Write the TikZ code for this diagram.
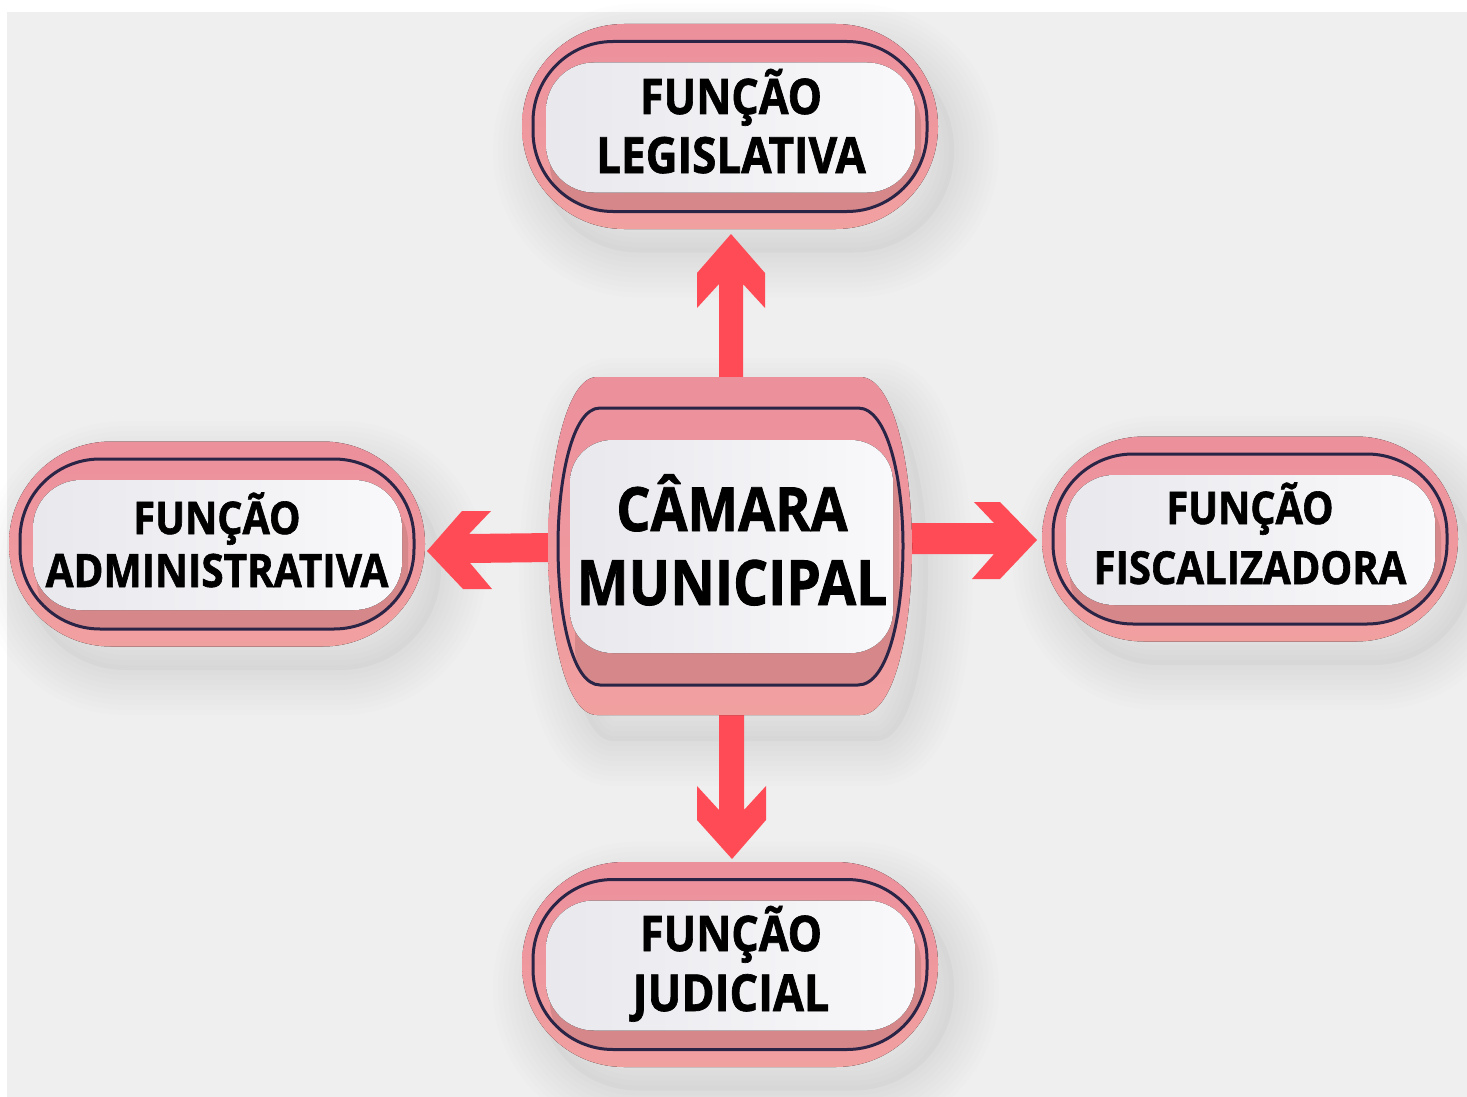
\documentclass[tikz,border=0pt]{standalone}
\usepackage{fontspec}
\newfontfamily\labfont[FakeStretch=0.88, BoldFeatures={FakeBold=1.3}]{Open Sans}
\definecolor{bgc}{HTML}{EFEFEF}
\definecolor{pinkT}{HTML}{EC909C}
\definecolor{pinkB}{HTML}{F1A0A0}
\definecolor{navyc}{HTML}{2A2546}
\definecolor{darkp}{HTML}{D6878A}
\definecolor{faceL}{HTML}{E8E8ED}
\definecolor{faceR}{HTML}{F9F9FB}
\definecolor{arrowc}{HTML}{FF4B55}
\tikzset{
  outerp/.style={top color=pinkT, bottom color=pinkB},
  navyline/.style={draw=navyc, line width=3pt},
  darkband/.style={fill=darkp},
  face/.style={left color=faceL, right color=faceR},
  blockarrow/.style={fill=arrowc},
  lab/.style={inner sep=0pt, text=black, font=\labfont\bfseries},
}
% soft shadow of a pill box centred at (#1,#2)
\newcommand{\pillshadow}[2]{%
  \begin{scope}[shift={(#1+16,#2+24)}]
    \fill[black, opacity=0.025, rounded corners=100] (-208,-102) rectangle (208,102);
    \foreach \w in {10,20,...,90}{
      \draw[black, opacity=0.008, line width=\w pt, rounded corners=100] (-208,-102) rectangle (208,102);
    }
  \end{scope}}
\newcommand{\pillbox}[2]{%
  \begin{scope}[shift={(#1,#2)}]
    \fill[outerp, rounded corners=102] (-208,-102.5) rectangle (208,102.5);
    \begin{scope}
      \clip[rounded corners=80] (-197,-85) rectangle (197,85);
      \fill[darkband, rounded corners=48] (-180,-50) rectangle (191,86);
      \fill[face, rounded corners=48] (-184,-64) rectangle (185,66);
    \end{scope}
    \draw[navyline, rounded corners=80] (-197,-85) rectangle (197,85);
  \end{scope}}
\newcommand{\centerouter}{(597,377) -- (860,377) .. controls (895,377) and (912,470) .. (912,546) .. controls (912,630) and (895,715) .. (860,715) -- (597,715) .. controls (565,715) and (548,630) .. (548,546) .. controls (548,470) and (565,377) .. (597,377) -- cycle}
\newcommand{\centernavy}{(600,408) -- (858,408) .. controls (888,408) and (903,480) .. (903,546) .. controls (903,615) and (888,685) .. (858,685) -- (600,685) .. controls (572,685) and (558,615) .. (558,546) .. controls (558,480) and (572,408) .. (600,408) -- cycle}
\begin{document}
\begin{tikzpicture}[x=1pt,y=-1pt]
  \useasboundingbox (0,0) rectangle (1467,1097);
  \fill[white] (0,0) rectangle (1467,1097);
  \fill[bgc] (7,12) rectangle (1467,1097);

  % shadows
  \pillshadow{730}{126.5}
  \pillshadow{217}{544}
  \pillshadow{1250}{539}
  \pillshadow{730}{964.5}
  \begin{scope}[shift={(16,26)}]
    \fill[black, opacity=0.025] \centerouter;
    \foreach \w in {10,20,...,90}{
      \draw[black, opacity=0.008, line width=\w pt] \centerouter;
    }
  \end{scope}

  % block arrows
  \fill[blockarrow] (719,382) -- (719,284) -- (697,308) -- (697,273) -- (731,234) -- (765,273) -- (765,308) -- (743,284) -- (743,382) -- cycle;
  \fill[blockarrow] (719,712) -- (719,810) -- (697,786) -- (697,820) -- (732,859) -- (766,820) -- (766,786) -- (744,810) -- (744,712) -- cycle;
  \fill[blockarrow] (908,523) -- (994,523) -- (974,502) -- (1000,502) -- (1037,540) -- (1000,579) -- (972,579) -- (994,554) -- (908,554) -- cycle;
  \fill[blockarrow] (552,533) -- (469,534) -- (491,511) -- (462,511) -- (427,551) -- (463,589) -- (492,589) -- (470,563) -- (552,562) -- cycle;

  % boxes
  \pillbox{730}{126.5}
  \pillbox{217}{544}
  \pillbox{1250}{539}
  \pillbox{730}{964.5}

  % centre box
  \fill[outerp] \centerouter;
  \begin{scope}
    \clip \centernavy;
    \fill[darkband, rounded corners=42] (575,455) rectangle (899,690);
    \fill[face, rounded corners=42] (570,440) rectangle (893,653);
  \end{scope}
  \draw[navyline] \centernavy;

  % texts
  \node[lab, anchor=base, font=\labfont\bfseries\fontsize{49}{59}\selectfont] (L1) at (731,114) {FUNÇÃO};
  \node[lab, anchor=base, font=\labfont\bfseries\fontsize{50}{59}\selectfont] (L2) at (731,173) {LEGISLATIVA};
  \node[lab, anchor=base, font=\labfont\bfseries\fontsize{45}{55}\selectfont] (A1) at (217,534) {FUNÇÃO};
  \node[lab, anchor=base, font=\labfont\bfseries\fontsize{46}{55}\selectfont] (A2) at (217,587) {ADMINISTRATIVA};
  \node[lab, anchor=base, font=\labfont\bfseries\fontsize{45}{55}\selectfont] (F1) at (1250,524) {FUNÇÃO};
  \node[lab, anchor=base, font=\labfont\bfseries\fontsize{45.5}{55}\selectfont] (F2) at (1250,584) {FISCALIZADORA};
  \node[lab, anchor=base, font=\labfont\bfseries\fontsize{49}{59}\selectfont] (J1) at (731,951) {FUNÇÃO};
  \node[lab, anchor=base, font=\labfont\bfseries\fontsize{51}{59}\selectfont] (J2) at (731,1011) {JUDICIAL};
  \node[lab, anchor=base, font=\labfont\bfseries\fontsize{61}{70}\selectfont] (C1) at (732,531) {CÂMARA};
  \node[lab, anchor=base, font=\labfont\bfseries\fontsize{62.5}{70}\selectfont] (C2) at (732,605) {MUNICIPAL};
\end{tikzpicture}
\end{document}
